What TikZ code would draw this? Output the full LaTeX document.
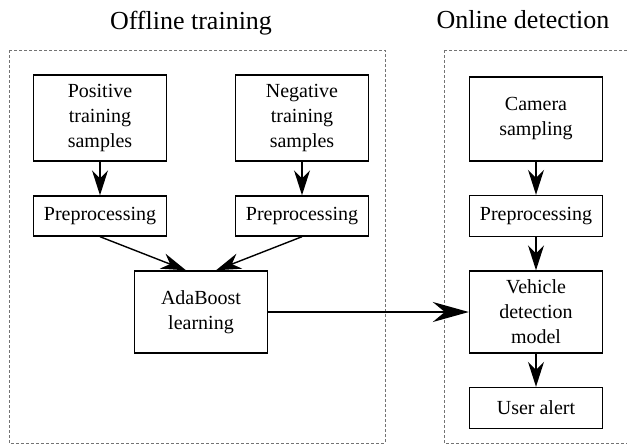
\documentclass[tikz,border=0pt]{standalone}
\usepackage{fontspec}
\setmainfont{Liberation Serif}
\usetikzlibrary{arrows.meta}

\tikzset{
  blk/.style={draw=black, line width=1.4pt, align=center, inner sep=0pt,
    minimum width=133pt, font=\fontsize{20}{25}\selectfont},
  arr/.style={line width=1.4pt, -{Stealth[length=25pt, width=16pt, inset=8pt]}},
  frame/.style={draw=black!55, line width=0.7pt, dash pattern=on 3pt off 2pt}
}

\begin{document}
\begin{tikzpicture}[x=1pt, y=-1pt]
        \useasboundingbox (0,0) rectangle (627,445);
        \begin{scope}
        \clip (0,0) rectangle (627,445);
        \draw[frame] (9,50) rectangle (385,443);
        \draw[frame] (444,50) rectangle (660,443);
        \end{scope}
        \node (offtitle) at (191,23) {\fontsize{26}{30}\selectfont Offline training};
        \node (ontitle) at (523,20) {\fontsize{26}{30}\selectfont Online detection};
        % training side
        \node[blk, minimum height=86pt] (pos) at (100,118) {Positive\\training\\samples};
        \node[blk, minimum height=86pt] (neg) at (302,118) {Negative\\training\\samples};
        \node[blk, minimum height=40pt] (prepl) at (100,216) {Preprocessing};
        \node[blk, minimum height=40pt] (prepr) at (302,216) {Preprocessing};
        \node[blk, minimum height=82pt] (ada) at (201,312) {AdaBoost\\learning};
        % detection side
        \node[blk, minimum height=84pt] (cam) at (536,119) {Camera\\sampling};
        \node[blk, minimum height=41pt] (prepo) at (536,216) {Preprocessing};
        \node[blk, minimum height=82pt] (veh) at (536,312) {Vehicle\\detection\\model};
        \node[blk, minimum height=41pt] (alert) at (536,408) {User alert};
        \draw[arr] (pos) -- (prepl);
        \draw[arr] (neg) -- (prepr);
        \draw[arr] (prepl.south) -- ([xshift=-15pt]ada.north);
        \draw[arr] (prepr.south) -- ([xshift=15pt]ada.north);
        \draw[arr, line width=2.2pt, -{Stealth[length=36pt, width=20pt, inset=12pt]}] (ada) -- (veh);
        \draw[arr] (cam) -- (prepo);
        \draw[arr] (prepo) -- (veh);
        \draw[arr] (veh) -- (alert);
    \end{tikzpicture}
\end{document}
